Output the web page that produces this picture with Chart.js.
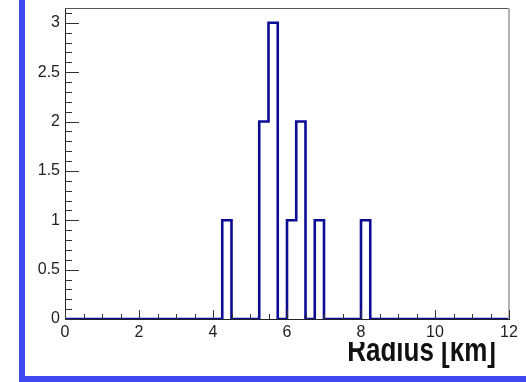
<!DOCTYPE html>
<html>
<head>
<meta charset="utf-8">
<script src="https://cdn.jsdelivr.net/npm/chart.js@4"></script>
<style>
  html, body { margin: 0; padding: 0; background: #fff; }
  #wrap { position: relative; width: 526px; height: 382px; overflow: hidden; }
  #chart { position: absolute; left: 0; top: 0; }
  .blue { position: absolute; background: #3f48f0; }
</style>
</head>
<body>
<div id="wrap">
  <canvas id="chart" width="526" height="382"></canvas>
  <div class="blue" style="left:19px; top:0; width:6px; height:382px;"></div>
  <div class="blue" style="left:19px; top:376px; width:507px; height:6px;"></div>
</div>
<script>
// histogram: 48 bins of 0.25 km from 0 to 12
var binStart = 0;
var binWidth = 0.25;
var counts = [
  0, 0, 0, 0, 0, 0, 0, 0,   // 0 - 2
  0, 0, 0, 0, 0, 0, 0, 0,   // 2 - 4
  0, 1, 0, 0, 0, 2, 3, 0,   // 4 - 6
  1, 2, 0, 1, 0, 0, 0, 0,   // 6 - 8
  1, 0, 0, 0, 0, 0, 0, 0,   // 8 - 10
  0, 0, 0, 0, 0, 0, 0, 0    // 10 - 12
];
var xTicks = [0, 2, 4, 6, 8, 10, 12];
var yTicks = [0, 0.5, 1, 1.5, 2, 2.5, 3];
var xTitle = 'Radius [km]';

// one point per bin low edge, plus the last high edge
var points = counts.map(function(c, i) {
  return { x: binStart + i * binWidth, y: c };
});
points.push({ x: binStart + counts.length * binWidth, y: counts[counts.length - 1] });

// ROOT style frame, inner ticks and axis title
var rootFrame = {
  id: 'rootFrame',
  afterDraw: function(chart) {
    var ctx = chart.ctx;
    var a = chart.chartArea;
    var xs = chart.scales.x, ys = chart.scales.y;
    ctx.save();
    // top and right frame
    ctx.strokeStyle = '#555';
    ctx.lineWidth = 1.2;
    ctx.beginPath();
    ctx.moveTo(a.left, a.top + 0.5);
    ctx.lineTo(a.right, a.top + 0.5);
    ctx.stroke();
    ctx.strokeStyle = '#b4b4b4';
    ctx.lineWidth = 2;
    ctx.beginPath();
    ctx.moveTo(a.right, a.top);
    ctx.lineTo(a.right, a.bottom);
    ctx.stroke();

    ctx.strokeStyle = '#333';
    ctx.lineWidth = 1;
    // y ticks, minor every 0.1
    for (var k = 0; k <= 31; k++) {
      var v = k / 10;
      var py = Math.round(ys.getPixelForValue(v)) + 0.5;
      var len = (k % 5 === 0) ? 14 : 7;
      ctx.beginPath();
      ctx.moveTo(a.left, py);
      ctx.lineTo(a.left + len, py);
      ctx.stroke();
    }
    // x ticks, minor every 0.5
    for (var j = 0; j <= 24; j++) {
      var xv = j / 2;
      var px = Math.round(xs.getPixelForValue(xv)) + 0.5;
      var l = (j % 4 === 0) ? 9 : 5;
      ctx.beginPath();
      ctx.moveTo(px, a.bottom);
      ctx.lineTo(px, a.bottom - l);
      ctx.stroke();
    }

    // axis title, cut at the top like the original
    ctx.beginPath();
    ctx.rect(0, 342, chart.width, 40);
    ctx.clip();
    ctx.translate(496, 361);
    ctx.scale(1, 1.3);
    ctx.fillStyle = '#111';
    ctx.font = 'bold 26px "Liberation Sans", Arial, sans-serif';
    ctx.textAlign = 'right';
    ctx.textBaseline = 'alphabetic';
    ctx.fillText(xTitle, 0, 0);
    ctx.restore();
  }
};

new Chart(document.getElementById('chart'), {
  type: 'line',
  data: {
    datasets: [{
      data: points,
      stepped: 'before',
      borderColor: '#0c0c94',
      borderWidth: 2.6,
      pointRadius: 0,
      fill: false
    }]
  },
  options: {
    responsive: false,
    animation: false,
    events: [],
    layout: { padding: { left: 0, right: 17, top: 8, bottom: 0 } },
    plugins: { legend: { display: false }, tooltip: { enabled: false } },
    scales: {
      x: {
        type: 'linear',
        min: 0,
        max: 12,
        afterFit: function(s) { s.height = 63; s.paddingLeft = 0; s.paddingRight = 0; },
        afterBuildTicks: function(s) { s.ticks = xTicks.map(function(v) { return { value: v }; }); },
        grid: { display: false, drawTicks: false },
        border: { display: true, color: '#222', width: 1 },
        ticks: {
          padding: 4,
          maxRotation: 0,
          color: '#222',
          font: { family: '"Liberation Sans", Arial, sans-serif', size: 16 },
          callback: function(v) { return String(v); }
        }
      },
      y: {
        min: 0,
        max: 3.15,
        afterFit: function(s) { s.width = 65; s.paddingTop = 0; s.paddingBottom = 0; },
        afterBuildTicks: function(s) { s.ticks = yTicks.map(function(v) { return { value: v }; }); },
        grid: { display: false, drawTicks: false },
        border: { display: true, color: '#222', width: 1 },
        ticks: {
          padding: 5,
          color: '#222',
          font: { family: '"Liberation Sans", Arial, sans-serif', size: 16 },
          callback: function(v) { return String(v); }
        }
      }
    }
  },
  plugins: [rootFrame]
});
</script>
</body>
</html>
